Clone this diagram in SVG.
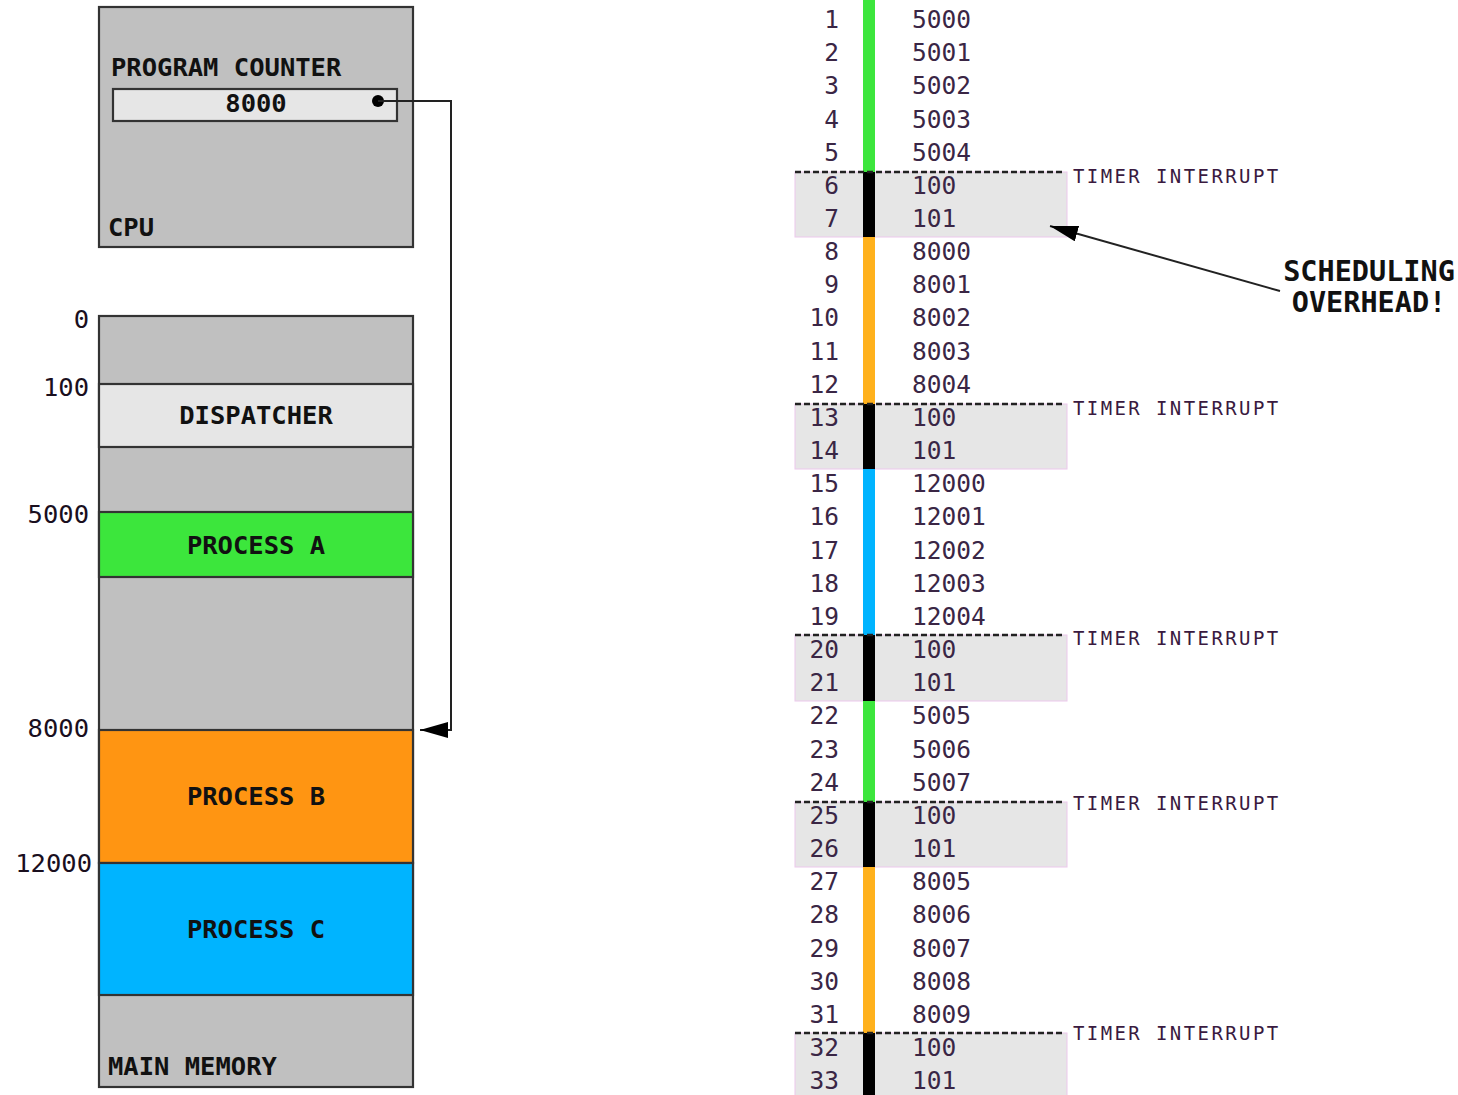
<svg xmlns="http://www.w3.org/2000/svg" width="1458" height="1095" viewBox="0 0 1458 1095">
<defs>
<style>
.lbl{font-family:"DejaVu Sans Mono","Liberation Mono",monospace;font-weight:bold;font-size:25.5px;fill:#111}
.big{font-size:28.5px}
.addr{font-family:"DejaVu Sans Mono","Liberation Mono",monospace;font-size:25.5px;fill:#1a0f1e;text-anchor:end}
.num{font-family:"DejaVu Sans Mono","Liberation Mono",monospace;font-size:24.5px;fill:#3a2645}
.rn{text-anchor:end}
.ti{font-family:"DejaVu Sans Mono","Liberation Mono",monospace;font-size:19px;letter-spacing:2.4px;fill:#3a1a40}
.box{stroke:#333;stroke-width:2.2}
.band{fill:#e6e6e6;stroke:#ecc8ec;stroke-width:1}
.dash{stroke:#222;stroke-width:2.4;stroke-dasharray:6 3;fill:none}
.conn{stroke:#222;stroke-width:2;fill:none}
</style>
<marker id="ah" viewBox="0 0 28 16" refX="28" refY="8" markerWidth="28" markerHeight="16" markerUnits="userSpaceOnUse" orient="auto">
<path d="M0,0 L28,8 L0,16 Z" fill="#000"/>
</marker>
</defs>
<rect width="1458" height="1095" fill="#fff"/>

<g id="cpu">
<rect class="box" x="99" y="7" width="314" height="240" fill="#c0c0c0"/>
<text class="lbl" x="111" y="76">PROGRAM COUNTER</text>
<rect class="box" x="113" y="89" width="284" height="32" fill="#e6e6e6"/>
<text class="lbl" x="256" y="112" text-anchor="middle">8000</text>
<circle cx="378" cy="101" r="6" fill="#000"/>
<text class="lbl" x="108" y="236">CPU</text>
</g>

<g id="memory">
<rect class="box" x="99" y="316" width="314" height="771" fill="#c0c0c0"/>
<g id="dispatcher">
<rect class="box" x="99" y="384" width="314" height="63" fill="#e6e6e6"/>
<text class="lbl" x="256" y="424" text-anchor="middle">DISPATCHER</text>
</g>
<g id="process-a">
<rect class="box" x="99" y="512" width="314" height="65" fill="#3ce63c"/>
<text class="lbl" x="256" y="554" text-anchor="middle">PROCESS A</text>
</g>
<g id="process-b">
<rect class="box" x="99" y="730" width="314" height="133" fill="#ff9512"/>
<text class="lbl" x="256" y="805" text-anchor="middle">PROCESS B</text>
</g>
<g id="process-c">
<rect class="box" x="99" y="863" width="314" height="132" fill="#00b4ff"/>
<text class="lbl" x="256" y="938" text-anchor="middle">PROCESS C</text>
</g>
<text class="lbl" x="108" y="1075">MAIN MEMORY</text>
<text class="addr" x="89" y="328">0</text>
<text class="addr" x="89" y="396">100</text>
<text class="addr" x="89" y="523">5000</text>
<text class="addr" x="89" y="737">8000</text>
<text class="addr" x="92" y="872">12000</text>
</g>

<g id="timeline">
<rect class="band" x="795" y="172" width="272" height="65"/>
<rect class="band" x="795" y="404" width="272" height="65"/>
<rect class="band" x="795" y="635" width="272" height="66"/>
<rect class="band" x="795" y="802" width="272" height="65"/>
<rect class="band" x="795" y="1033" width="272" height="70"/>

<rect x="863" y="0" width="12" height="172" fill="#3ce63c"/>
<rect x="863" y="172" width="12" height="65" fill="#000"/>
<rect x="863" y="237" width="12" height="167" fill="#ffb11c"/>
<rect x="863" y="404" width="12" height="65" fill="#000"/>
<rect x="863" y="469" width="12" height="166" fill="#00b4ff"/>
<rect x="863" y="635" width="12" height="66" fill="#000"/>
<rect x="863" y="701" width="12" height="101" fill="#3ce63c"/>
<rect x="863" y="802" width="12" height="65" fill="#000"/>
<rect x="863" y="867" width="12" height="166" fill="#ffb11c"/>
<rect x="863" y="1033" width="12" height="62" fill="#000"/>

<path class="dash" d="M795,172 H1064 M795,404 H1064 M795,635 H1064 M795,802 H1064 M795,1033 H1064"/>

<text class="ti" x="1073" y="183">TIMER INTERRUPT</text>
<text class="ti" x="1073" y="415">TIMER INTERRUPT</text>
<text class="ti" x="1073" y="645">TIMER INTERRUPT</text>
<text class="ti" x="1073" y="810">TIMER INTERRUPT</text>
<text class="ti" x="1073" y="1040">TIMER INTERRUPT</text>

<g class="num">
<text class="rn" x="839" y="28">1</text><text x="912" y="28">5000</text>
<text class="rn" x="839" y="61.2">2</text><text x="912" y="61.2">5001</text>
<text class="rn" x="839" y="94.3">3</text><text x="912" y="94.3">5002</text>
<text class="rn" x="839" y="127.5">4</text><text x="912" y="127.5">5003</text>
<text class="rn" x="839" y="160.6">5</text><text x="912" y="160.6">5004</text>
<text class="rn" x="839" y="193.8">6</text><text x="912" y="193.8">100</text>
<text class="rn" x="839" y="227">7</text><text x="912" y="227">101</text>
<text class="rn" x="839" y="260.1">8</text><text x="912" y="260.1">8000</text>
<text class="rn" x="839" y="293.3">9</text><text x="912" y="293.3">8001</text>
<text class="rn" x="839" y="326.4">10</text><text x="912" y="326.4">8002</text>
<text class="rn" x="839" y="359.6">11</text><text x="912" y="359.6">8003</text>
<text class="rn" x="839" y="392.8">12</text><text x="912" y="392.8">8004</text>
<text class="rn" x="839" y="425.9">13</text><text x="912" y="425.9">100</text>
<text class="rn" x="839" y="459.1">14</text><text x="912" y="459.1">101</text>
<text class="rn" x="839" y="492.2">15</text><text x="912" y="492.2">12000</text>
<text class="rn" x="839" y="525.4">16</text><text x="912" y="525.4">12001</text>
<text class="rn" x="839" y="558.6">17</text><text x="912" y="558.6">12002</text>
<text class="rn" x="839" y="591.7">18</text><text x="912" y="591.7">12003</text>
<text class="rn" x="839" y="624.9">19</text><text x="912" y="624.9">12004</text>
<text class="rn" x="839" y="658">20</text><text x="912" y="658">100</text>
<text class="rn" x="839" y="691.2">21</text><text x="912" y="691.2">101</text>
<text class="rn" x="839" y="724.4">22</text><text x="912" y="724.4">5005</text>
<text class="rn" x="839" y="757.5">23</text><text x="912" y="757.5">5006</text>
<text class="rn" x="839" y="790.7">24</text><text x="912" y="790.7">5007</text>
<text class="rn" x="839" y="823.8">25</text><text x="912" y="823.8">100</text>
<text class="rn" x="839" y="857">26</text><text x="912" y="857">101</text>
<text class="rn" x="839" y="890.2">27</text><text x="912" y="890.2">8005</text>
<text class="rn" x="839" y="923.3">28</text><text x="912" y="923.3">8006</text>
<text class="rn" x="839" y="956.5">29</text><text x="912" y="956.5">8007</text>
<text class="rn" x="839" y="989.6">30</text><text x="912" y="989.6">8008</text>
<text class="rn" x="839" y="1022.8">31</text><text x="912" y="1022.8">8009</text>
<text class="rn" x="839" y="1056">32</text><text x="912" y="1056">100</text>
<text class="rn" x="839" y="1089.1">33</text><text x="912" y="1089.1">101</text>
</g>
</g>

<g id="note">
<text class="lbl big" x="1369" y="281" text-anchor="middle">SCHEDULING</text>
<text class="lbl big" x="1369" y="312" text-anchor="middle">OVERHEAD!</text>
</g>

<g id="connectors">
<path class="conn" d="M378,101 H451 V730 H420" marker-end="url(#ah)"/>
<path class="conn" d="M1280,291 L1050,226" marker-end="url(#ah)"/>
</g>
</svg>
